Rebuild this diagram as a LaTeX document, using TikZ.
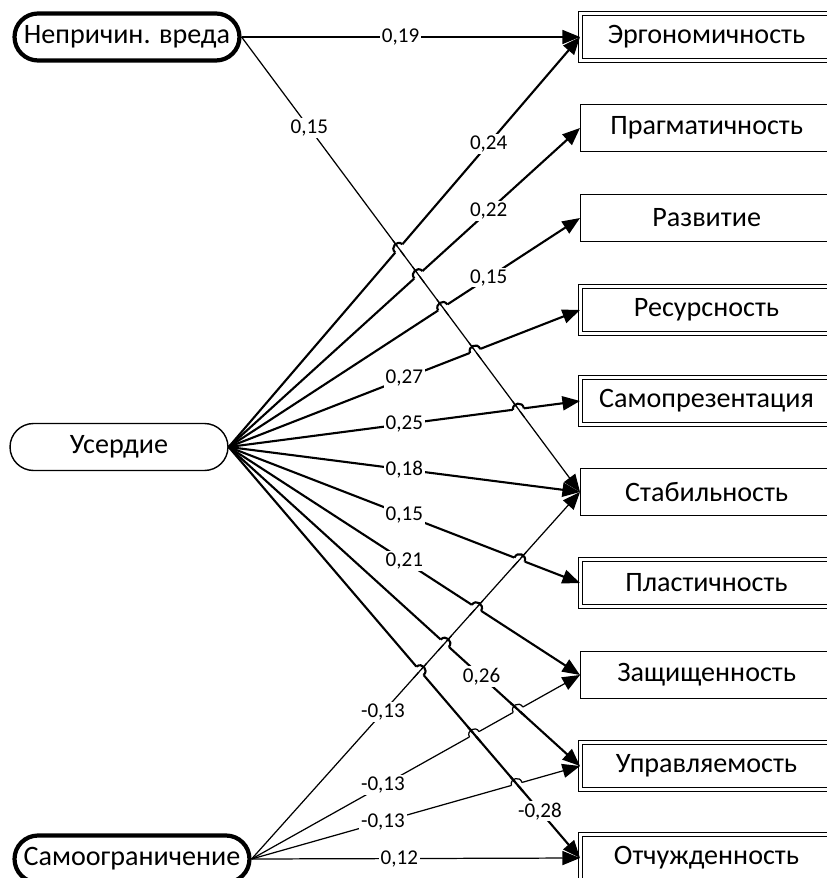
\documentclass[tikz,border=0pt]{standalone}
\usepackage{fontspec}
\setmainfont{Carlito}
\usetikzlibrary{positioning,shapes.misc,arrows.meta,calc}

% line jump: #1 width, #2--#3 jumping line, #4 width, #5--#6 crossed line
\newcommand\linehop[6]{%
  \coordinate (X) at (intersection of #2--#3 and #5--#6);
  \coordinate (A) at ($(X)!0.11cm!(#2)$);
  \coordinate (B) at ($(X)!0.11cm!(#3)$);
  \draw[white,line width=2.6pt] (A) -- (B);
  \draw[line width=#4] ($(X)!0.2cm!(#5)$) -- ($(X)!0.2cm!(#6)$);
  \draw[line width=#1] (A) .. controls ($(A)!1.333!90:(X)$) and ($(B)!1.333!-90:(X)$) .. (B);
}

\begin{document}
\begin{tikzpicture}[x=0.02cm,y=-0.02cm,
  factor/.style={rounded rectangle,draw,minimum height=0.94cm,inner sep=0pt,font=\fontsize{16}{19}\selectfont},
  mainfactor/.style={factor,line width=2.4pt},
  scale box/.style={rectangle,draw,line width=0.8pt,minimum width=5.04cm,minimum height=0.94cm,inner sep=0pt,anchor=west,font=\fontsize{16}{19}\selectfont},
  dbox/.style={scale box,double,double distance=1.3pt,line width=0.6pt},
  path/.style={-{Triangle[length=10pt,width=8pt]},line width=0.7pt},
  bold path/.style={path,line width=1.2pt},
  coef/.style={fill=white,inner sep=1pt,font=\fontsize{12}{14}\selectfont}]
\useasboundingbox (0,0) rectangle (827,878);

% factors
\node[mainfactor,minimum width=4.5cm] (harm) at (127,37) {Непричин. вреда};
\node[factor,line width=0.8pt,minimum width=4.36cm] (zeal) at (119,447) {Усердие};
\node[mainfactor,minimum width=4.7cm] (restr) at (132,859) {Самоограничение};

% scales
\node[dbox] (ergo) at (580,37) {Эргономичность};
\node[scale box] (prag) at (580,128) {Прагматичность};
\node[scale box] (devel) at (580,218) {Развитие};
\node[dbox] (resour) at (580,310) {Ресурсность};
\node[dbox] (selfpr) at (580,401) {Самопрезентация};
\node[scale box] (stab) at (580,492) {Стабильность};
\node[dbox] (plast) at (580,583) {Пластичность};
\node[scale box] (secur) at (580,675) {Защищенность};
\node[dbox] (manag) at (580,766) {Управляемость};
\node[dbox] (alien) at (580,858) {Отчужденность};

% paths
\draw[path] (harm.east) -- node[coef,pos=0.47] {0,19} (ergo.west);
\draw[path] (harm.east) -- node[coef,pos=0.2] {0,15} (stab.west);

\draw[bold path] (zeal.east) -- node[coef,pos=0.74] {0,24} (ergo.west);
\draw[bold path] (zeal.east) -- node[coef,pos=0.74] {0,22} (prag.west);
\draw[bold path] (zeal.east) -- node[coef,pos=0.74] {0,15} (devel.west);
\draw[bold path] (zeal.east) -- node[coef,pos=0.5] {0,27} (resour.west);
\draw[bold path] (zeal.east) -- node[coef,pos=0.5] {0,25} (selfpr.west);
\draw[bold path] (zeal.east) -- node[coef,pos=0.5] {0,18} (stab.west);
\draw[bold path] (zeal.east) -- node[coef,pos=0.5] {0,15} (plast.west);
\draw[bold path] (zeal.east) -- node[coef,pos=0.5] {0,21} (secur.west);
\draw[bold path] (zeal.east) -- node[coef,pos=0.72] {0,26} (manag.west);
\draw[bold path] (zeal.east) -- node[coef,pos=0.886] {-0,28} (alien.west);

\draw[path] (restr.east) -- node[coef,pos=0.4] {-0,13} (stab.west);
\draw[path] (restr.east) -- node[coef,pos=0.4] {-0,13} (secur.west);
\draw[path] (restr.east) -- node[coef,pos=0.4] {-0,13} (manag.west);
\draw[path] (restr.east) -- node[coef,pos=0.45] {0,12} (alien.west);

% jumps
\foreach \s in {ergo,prag,devel,resour,selfpr}
  {\linehop{1.2pt}{zeal.east}{\s.west}{0.7pt}{harm.east}{stab.west}}
\foreach \s in {plast,secur,manag,alien}
  {\linehop{1.2pt}{zeal.east}{\s.west}{0.7pt}{restr.east}{stab.west}}
\foreach \s in {manag,alien}
  {\linehop{0.7pt}{restr.east}{secur.west}{1.2pt}{zeal.east}{\s.west}}
\linehop{0.7pt}{restr.east}{manag.west}{1.2pt}{zeal.east}{alien.west}
\end{tikzpicture}
\end{document}
